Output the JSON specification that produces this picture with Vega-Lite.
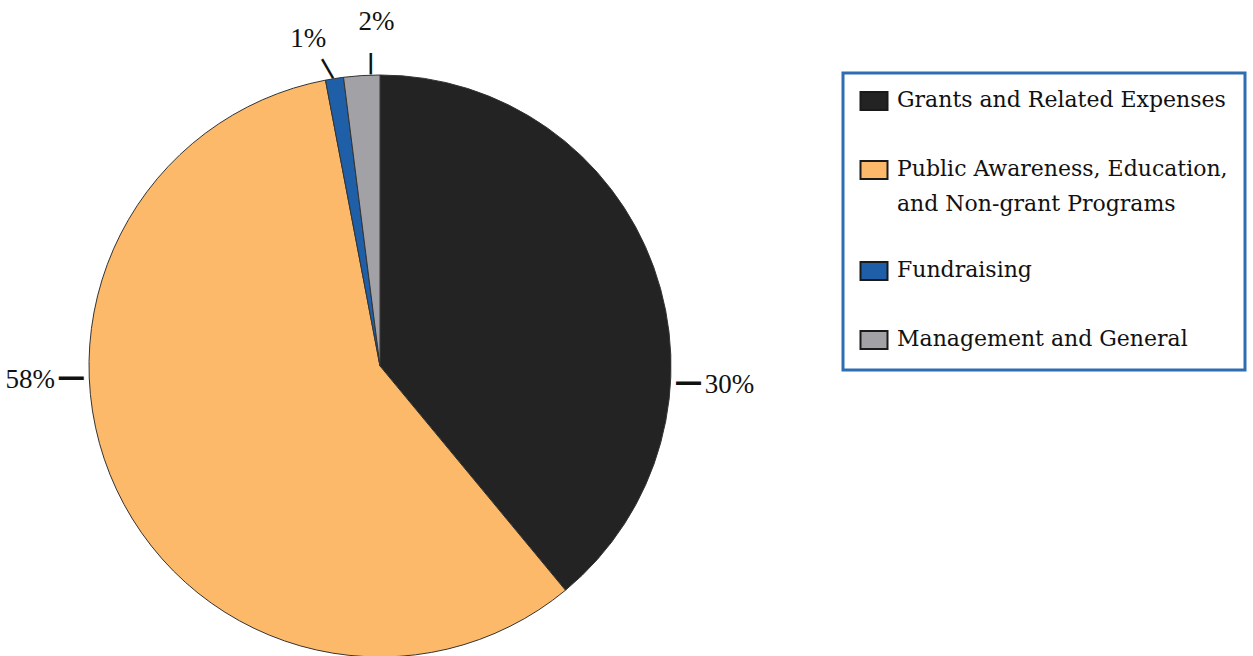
{
  "$schema": "https://vega.github.io/schema/vega-lite/v6.json",
  "autosize": "none",
  "width": 582,
  "height": 582,
  "padding": {"left": 89, "top": 75, "right": 582, "bottom": 0},
  "background": "white",
  "data": {
    "values": [
      {"category": "Grants and Related Expenses", "value": 39, "label": "30%", "rank": 1},
      {"category": "Public Awareness, Education, and Non-grant Programs", "value": 58, "label": "58%", "rank": 2},
      {"category": "Fundraising", "value": 1, "label": "1%", "rank": 3},
      {"category": "Management and General", "value": 2, "label": "2%", "rank": 4}
    ]
  },
  "encoding": {
    "theta": {"field": "value", "type": "quantitative", "stack": true},
    "order": {"field": "rank", "type": "quantitative"}
  },
  "layer": [
    {
      "mark": {"type": "arc", "stroke": "#333333", "strokeWidth": 1},
      "encoding": {
        "color": {
          "field": "category",
          "type": "nominal",
          "scale": {
            "domain": ["Grants and Related Expenses", "Public Awareness, Education, and Non-grant Programs", "Fundraising", "Management and General"],
            "range": ["#232323", "#fdb96a", "#1f5fa8", "#a2a2a6"]
          },
          "legend": {
            "title": null,
            "orient": "none",
            "legendX": 754,
            "legendY": -2,
            "direction": "vertical",
            "strokeColor": "#2f6db3",
            "fillColor": "white",
            "padding": 17,
            "symbolType": "M-1.35,-0.9L1.35,-0.9L1.35,0.9L-1.35,0.9Z",
            "symbolSize": 400,
            "symbolOffset": 3,
            "symbolStrokeColor": "#1a1a1a",
            "symbolStrokeWidth": 2,
            "symbolOpacity": 1,
            "labelFont": "DejaVu Serif",
            "labelFontSize": 22,
            "labelColor": "#111111",
            "labelLimit": 400,
            "labelOffset": 12,
            "rowPadding": 43,
            "labelExpr": "datum.label == 'Public Awareness, Education, and Non-grant Programs' ? split('Public Awareness, Education,|and Non-grant Programs', '|') : datum.label",
            "encode": {
              "legend": {"update": {"strokeWidth": {"value": 3}}},
              "labels": {"update": {"lineHeight": {"value": 35}, "baseline": {"value": "top"}, "dy": {"value": -11}}}
            }
          }
        }
      }
    },
    {
      "mark": {"type": "text", "radius": 350, "thetaOffset": 0.4, "font": "Liberation Serif", "fontSize": 27, "color": "#111111"},
      "encoding": {
        "detail": {"field": "category", "type": "nominal"},
        "text": {"condition": {"test": "datum.rank <= 2", "field": "label"}, "value": ""}
      }
    },
    {
      "mark": {"type": "text", "radius": 309, "thetaOffset": 0.4, "font": "DejaVu Sans", "fontSize": 28, "fontWeight": "bold", "color": "#111111"},
      "encoding": {
        "detail": {"field": "category", "type": "nominal"},
        "text": {"condition": {"test": "datum.rank <= 2", "value": "—"}, "value": ""}
      }
    },
    {
      "mark": {"type": "text", "radius": 343, "font": "Liberation Serif", "fontSize": 27, "color": "#111111",
        "align": {"expr": "datum.rank == 3 ? 'right' : 'left'"},
        "dy": {"expr": "datum.rank == 3 ? 12 : -2"}},
      "encoding": {
        "detail": {"field": "category", "type": "nominal"},
        "text": {"condition": {"test": "datum.rank > 2", "field": "label"}, "value": ""}
      }
    },
    {
      "mark": {"type": "text", "radius": 305, "font": "DejaVu Sans", "fontSize": 22, "fontWeight": "bold", "color": "#111111",
        "angle": {"expr": "datum.rank == 3 ? -30 : 0"},
        "dx": {"expr": "datum.rank == 3 ? -6 : 10"}},
      "encoding": {
        "detail": {"field": "category", "type": "nominal"},
        "text": {"condition": {"test": "datum.rank > 2", "value": "|"}, "value": ""}
      }
    }
  ]
}
